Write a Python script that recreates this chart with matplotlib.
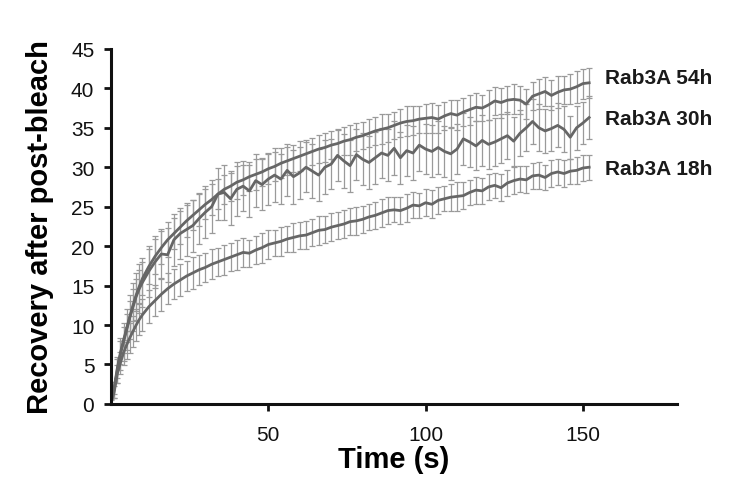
import matplotlib
matplotlib.use("Agg")
import matplotlib.pyplot as plt
import numpy as np

plt.rcParams["font.family"] = ["Liberation Sans", "DejaVu Sans"]

# sampling times (s): 1 s steps for the first 10 s, then 2 s steps
time_s = np.concatenate([np.arange(0, 11), np.arange(12, 153, 2)])

rab_54h = [0.3, 2.0, 4.5, 6.5, 8.1, 9.6, 11.1, 12.5, 13.8, 14.9,
           15.9,
           17.4, 18.7, 19.8, 20.8, 21.6, 22.4, 23.2, 23.9, 24.6, 25.3,
           25.9, 26.6, 27.2, 27.6, 28.1, 28.4, 28.8, 29.1, 29.4, 29.8,
           30.1, 30.5, 30.8, 31.1, 31.4, 31.7, 32.0, 32.3, 32.5, 32.8,
           33.0, 33.3, 33.5, 33.8, 34.0, 34.3, 34.6, 34.8, 35.0, 35.3,
           35.6, 35.8, 35.9, 36.1, 36.2, 36.3, 36.1, 36.5, 36.8, 36.6,
           37.0, 37.3, 37.6, 37.5, 37.9, 38.4, 38.2, 38.5, 38.6, 38.5,
           38.0, 39.0, 39.3, 39.6, 39.1, 39.5, 39.8, 39.9, 40.2, 40.6,
           40.7]
rab_30h = [0.3, 1.8, 4.3, 6.3, 7.9, 9.4, 11.0, 12.3, 13.6, 14.6,
           15.4,
           16.8, 18.0, 19.0, 18.9, 20.8, 21.6, 22.1, 22.6, 23.5, 24.3,
           25.0, 26.6, 26.8, 26.0, 27.2, 27.6, 27.0, 28.3, 27.8, 28.5,
           29.0, 28.5, 29.6, 28.8, 29.3, 30.0, 29.5, 29.0, 30.0, 30.4,
           31.5, 30.8, 30.2, 31.6, 31.0, 30.6, 31.2, 31.8, 31.5, 32.4,
           31.2, 32.1, 31.8, 32.8, 32.3, 32.0, 32.5, 32.0, 31.7, 32.3,
           33.6, 33.2, 32.7, 33.4, 32.9, 33.2, 33.6, 34.0, 33.3, 34.3,
           35.0, 35.8, 35.0, 34.6, 34.9, 35.3, 34.8, 33.8, 35.0, 35.6,
           36.3]
rab_18h = [0.2, 1.5, 3.8, 5.2, 6.5, 7.5, 8.4, 9.2, 10.0, 10.7,
           11.3,
           12.3, 13.1, 13.9, 14.6, 15.2, 15.7, 16.2, 16.6, 17.0, 17.3,
           17.7, 18.0, 18.3, 18.6, 18.9, 19.2, 19.1, 19.5, 19.8, 20.2,
           20.4, 20.6, 20.9, 21.1, 21.3, 21.4, 21.7, 22.0, 22.1, 22.4,
           22.6, 22.8, 23.1, 23.2, 23.4, 23.7, 23.9, 24.2, 24.5, 24.6,
           24.5, 24.8, 25.2, 25.1, 25.5, 25.3, 25.8, 26.0, 26.2, 26.3,
           26.4, 26.8, 27.1, 27.0, 27.5, 27.7, 27.4, 28.0, 28.3, 28.5,
           28.4, 28.9, 29.0, 28.7, 29.2, 29.4, 29.2, 29.5, 29.6, 29.9,
           30.0]

err_54h = [0.3, 0.8, 1.2, 1.5, 1.7, 1.8, 1.9, 2.0, 2.0, 2.1,
           2.1,
           2.2, 2.2, 2.1, 2.2, 2.0, 2.1, 2.0, 1.9, 2.0, 1.9,
           2.0, 1.9, 1.8, 1.9, 2.1, 1.9, 1.8, 2.0, 1.8, 1.9,
           1.8, 1.9, 1.8, 1.7, 1.9, 1.8, 1.7, 1.8, 1.9, 1.8,
           1.7, 1.8, 1.9, 1.8, 1.7, 1.8, 1.8, 1.9, 1.8, 1.7,
           1.8, 1.9, 1.8, 1.7, 1.8, 1.9, 1.8, 1.8, 1.7, 1.9,
           1.8, 1.9, 1.8, 1.7, 1.9, 1.8, 1.9, 1.8, 1.9, 1.8,
           1.9, 1.8, 1.9, 1.8, 1.9, 2.0, 1.8, 1.9, 2.0, 1.9,
           1.9]
err_30h = [0.4, 1.0, 1.6, 2.0, 2.4, 2.6, 2.8, 3.0, 3.0, 3.1,
           3.1,
           3.2, 3.3, 3.2, 3.4, 3.3, 3.2, 3.4, 3.3, 3.2, 3.3,
           3.4, 3.3, 3.5, 3.3, 3.4, 3.2, 3.3, 3.4, 3.2, 3.3,
           3.4, 3.2, 3.3, 3.4, 3.3, 3.2, 3.4, 3.3, 3.4, 3.2,
           3.3, 3.4, 3.3, 3.2, 3.3, 3.4, 3.3, 3.2, 3.3, 3.4,
           3.3, 3.2, 3.4, 3.3, 3.2, 3.3, 3.4, 3.2, 3.3, 3.2,
           3.3, 3.2, 3.1, 3.2, 3.1, 3.0, 3.1, 3.0, 3.1, 2.9,
           3.0, 2.9, 3.0, 2.8, 2.9, 2.8, 2.9, 2.7, 2.8, 2.7,
           2.7]
err_18h = [0.3, 0.8, 1.1, 1.4, 1.6, 1.8, 1.9, 2.0, 2.0, 2.0,
           2.0,
           2.1, 2.0, 2.1, 2.0, 1.9, 2.0, 1.9, 2.0, 1.9, 1.8,
           1.9, 1.8, 1.9, 1.8, 1.9, 1.8, 1.7, 1.8, 1.9, 1.8,
           1.7, 1.8, 1.7, 1.8, 1.7, 1.8, 1.7, 1.8, 1.7, 1.8,
           1.7, 1.8, 1.7, 1.8, 1.7, 1.6, 1.7, 1.8, 1.7, 1.6,
           1.7, 1.8, 1.7, 1.6, 1.7, 1.8, 1.7, 1.6, 1.7, 1.8,
           1.7, 1.6, 1.7, 1.6, 1.7, 1.6, 1.7, 1.6, 1.7, 1.6,
           1.7, 1.6, 1.7, 1.6, 1.7, 1.6, 1.7, 1.6, 1.7, 1.6,
           1.6]

names = ["Rab3A 54h", "Rab3A 30h", "Rab3A 18h"]
values = [rab_54h, rab_30h, rab_18h]
errors = [err_54h, err_30h, err_18h]
label_y = [41.4, 36.2, 29.8]

fig = plt.figure(figsize=(7.5, 4.89), dpi=100)
ax = fig.add_axes([0.148, 0.172, 0.755, 0.726])

for vals, err in zip(values, errors):
    ax.errorbar(time_s, vals, yerr=err, fmt="none", ecolor="#9a9a9a",
                elinewidth=0.9, capsize=2.5, capthick=0.9, zorder=1)
for name, vals, ly in zip(names, values, label_y):
    ax.plot(time_s, vals, color="#666666", lw=2.0, zorder=2)
    ax.text(157, ly, name, fontsize=15, fontweight="bold",
            va="center", ha="left", color="#1a1a1a")

ax.set_xlim(0, 180)
ax.set_ylim(0, 45)
ax.set_xticks([50, 100, 150])
ax.set_yticks(np.arange(0, 46, 5))
ax.tick_params(axis="both", direction="out", length=5, width=2,
               labelsize=15, colors="#111111")
ax.tick_params(axis="y", pad=7)
ax.tick_params(axis="x", pad=10)
ax.spines["top"].set_visible(False)
ax.spines["right"].set_visible(False)
for s in ("left", "bottom"):
    ax.spines[s].set_linewidth(2.2)
    ax.spines[s].set_color("#111111")

ax.set_xlabel("Time (s)", fontsize=21, fontweight="bold", labelpad=1)
ax.set_ylabel("Recovery after post-bleach", fontsize=21, fontweight="bold",
              labelpad=12)

fig.savefig("out.png", dpi=100)
